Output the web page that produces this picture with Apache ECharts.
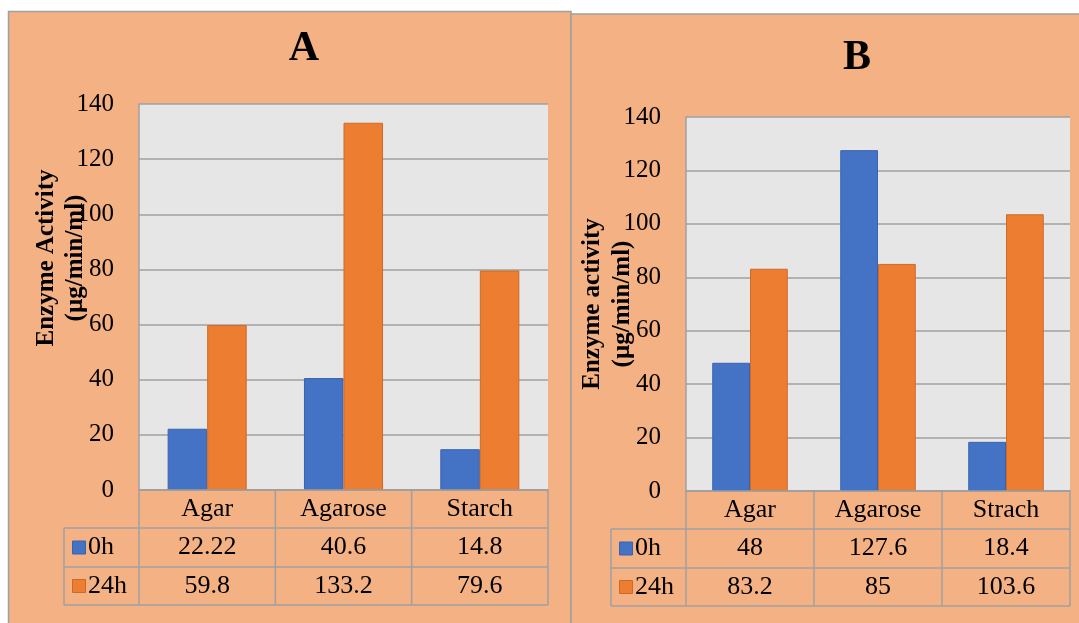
<!DOCTYPE html>
<html>
<head>
<meta charset="utf-8">
<title>Enzyme activity</title>
<script src="https://cdn.jsdelivr.net/npm/echarts@6/dist/echarts.min.js"></script>
<style>
  html, body { margin: 0; padding: 0; background: #ffffff; }
  #chart { width: 1079px; height: 623px; }
</style>
</head>
<body>
<div id="chart"></div>
<script>
// ---- data ----
const seriesNames = ['0h', '24h'];
const categoriesA = ['Agar', 'Agarose', 'Starch'];
const zeroHourA = [22.22, 40.6, 14.8];
const dayA = [59.8, 133.2, 79.6];
const categoriesB = ['Agar', 'Agarose', 'Strach'];
const zeroHourB = [48, 127.6, 18.4];
const dayB = [83.2, 85, 103.6];
const panelTitles = ['A', 'B'];
const axisTitlesA = ['Enzyme Activity', '(µg/min/ml)'];
const axisTitlesB = ['Enzyme activity', '(µg/min/ml)'];
const yMin = 0, yMax = 140, yStep = 20;

// ---- layout & style ----
const SERIF = '"Liberation Serif", "Times New Roman", serif';
const BLUE = '#4472C4', ORANGE = '#ED7D31';
const BLUE_EDGE = '#3A63AD', ORANGE_EDGE = '#CE6A29';
const PANEL_BG = '#F4B183', PLOT_BG = '#E7E6E6', LINE = '#A0A0A0';

const panels = [
  { box: [8.5, 11.5, 562.5, 700], plot: { left: 139, top: 104, width: 409, height: 386 },
    title: [304, 49], axisTitle: [[47, 258], [76, 258]], keyLeft: 64, rowH: [38, 39, 38],
    gap: '42%', cats: categoriesA, vals: [zeroHourA, dayA], axisTitles: axisTitlesA },
  { box: [571, 14, 600, 700], plot: { left: 686, top: 117, width: 384, height: 374 },
    title: [857, 58], axisTitle: [[593, 304], [623, 304]], keyLeft: 611, rowH: [38, 39, 38],
    gap: '41%', cats: categoriesB, vals: [zeroHourB, dayB], axisTitles: axisTitlesB }
];

const grids = [], xAxes = [], yAxes = [], series = [], graphics = [];

panels.forEach((p, i) => {
  const g = p.plot;
  // panel background with border
  graphics.push({ type: 'rect', z: -10, shape: { x: p.box[0], y: p.box[1], width: p.box[2], height: p.box[3] },
    style: { fill: PANEL_BG, stroke: LINE, lineWidth: 1.5 } });
  // panel title
  graphics.push({ type: 'text', x: p.title[0], y: p.title[1],
    style: { text: panelTitles[i], font: 'bold 42px ' + SERIF, fill: '#000', textAlign: 'center', textVerticalAlign: 'middle' } });
  // rotated y axis title, two lines
  p.axisTitles.forEach((t, k) => {
    graphics.push({ type: 'text', x: p.axisTitle[k][0], y: p.axisTitle[k][1], rotation: Math.PI / 2,
      style: { text: t, font: 'bold 25px ' + SERIF, fill: '#000', textAlign: 'center', textVerticalAlign: 'middle' } });
  });

  grids.push({ left: g.left, top: g.top, width: g.width, height: g.height, show: true,
    backgroundColor: PLOT_BG, borderWidth: 0 });
  xAxes.push({ type: 'category', gridIndex: i, data: p.cats,
    axisLine: { show: true, lineStyle: { color: LINE, width: 2 } },
    axisTick: { show: false },
    axisLabel: { show: true, margin: 19, verticalAlign: 'middle', fontFamily: SERIF, fontSize: 26, color: '#000' } });
  yAxes.push({ type: 'value', gridIndex: i, min: yMin, max: yMax, interval: yStep,
    axisLine: { show: true, lineStyle: { color: LINE, width: 1.5 } },
    axisTick: { show: false },
    splitLine: { show: true, lineStyle: { color: LINE, width: 1.5 } },
    axisLabel: { margin: 25, fontFamily: SERIF, fontSize: 25, color: '#000' } });

  const fills = [BLUE, ORANGE], edges = [BLUE_EDGE, ORANGE_EDGE];
  p.vals.forEach((v, s) => {
    series.push({ type: 'bar', name: seriesNames[s], xAxisIndex: i, yAxisIndex: i, data: v,
      barGap: '0%', barCategoryGap: p.gap,
      itemStyle: { color: fills[s], borderColor: edges[s], borderWidth: 1 } });
  });

  // data table under the plot
  const x0 = g.left, x1 = g.left + g.width, yTop = g.top + g.height;
  const y1 = yTop + p.rowH[0], y2 = y1 + p.rowH[1], y3 = y2 + p.rowH[2];
  const colW = g.width / p.cats.length;
  const ln = (ax, ay, bx, by) => graphics.push({ type: 'line', z: 5,
    shape: { x1: ax, y1: ay, x2: bx, y2: by }, style: { stroke: LINE, lineWidth: 1.5 } });
  // horizontal lines
  ln(x0, yTop, x1, yTop);
  ln(p.keyLeft, y1, x1, y1);
  ln(p.keyLeft, y2, x1, y2);
  ln(p.keyLeft, y3, x1, y3);
  // vertical lines
  ln(p.keyLeft, y1, p.keyLeft, y3);
  for (let c = 0; c <= p.cats.length; c++) {
    const cx = x0 + c * colW;
    ln(cx, yTop, cx, y3);
  }
  // rows: legend key + values
  const rowMid = [(y1 + y2) / 2, (y2 + y3) / 2];
  p.vals.forEach((v, s) => {
    graphics.push({ type: 'rect', z: 6,
      shape: { x: p.keyLeft + 8.5, y: rowMid[s] - 6.5, width: 13, height: 13 },
      style: { fill: fills[s], stroke: edges[s], lineWidth: 1 } });
    graphics.push({ type: 'text', z: 6, x: p.keyLeft + 24, y: rowMid[s],
      style: { text: seriesNames[s], font: '26px ' + SERIF, fill: '#000', textAlign: 'left', textVerticalAlign: 'middle' } });
    v.forEach((val, c) => {
      graphics.push({ type: 'text', z: 6, x: x0 + (c + 0.5) * colW, y: rowMid[s],
        style: { text: String(val), font: '26px ' + SERIF, fill: '#000', textAlign: 'center', textVerticalAlign: 'middle' } });
    });
  });
});

const chart = echarts.init(document.getElementById('chart'), null, { renderer: 'canvas' });
chart.setOption({
  backgroundColor: '#ffffff',
  animation: false,
  grid: grids,
  xAxis: xAxes,
  yAxis: yAxes,
  series: series,
  graphic: { elements: graphics }
});
</script>
</body>
</html>
